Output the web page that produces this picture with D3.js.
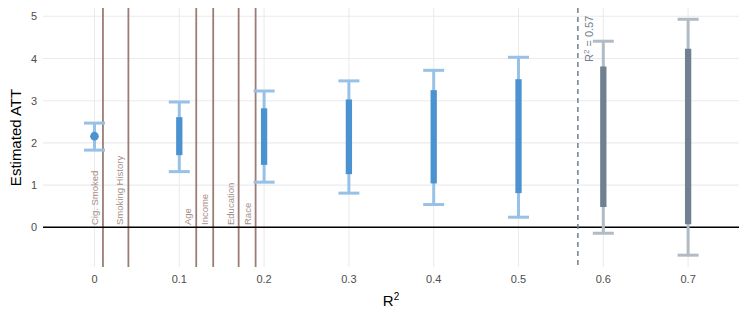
<!DOCTYPE html>
<html>
<head>
<meta charset="utf-8">
<script src="https://cdn.jsdelivr.net/npm/d3@7"></script>
<style>
  body { margin: 0; background: #fff; }
  svg { font-family: "Liberation Sans", Arial, sans-serif; }
</style>
</head>
<body>
<svg width="747" height="320"></svg>
<script>
// R^2 of each sensitivity scenario, with outer and inner intervals
const r2 = [0, 0.1, 0.2, 0.3, 0.4, 0.5, 0.6, 0.7]
const outerLo = [1.83, 1.32, 1.07, 0.81, 0.54, 0.24, -0.14, -0.66]
const outerHi = [2.47, 2.97, 3.23, 3.47, 3.72, 4.03, 4.41, 4.93]
const innerLo = [2.16, 1.71, 1.48, 1.26, 1.04, 0.81, 0.48, 0.07]
const innerHi = [2.16, 2.61, 2.82, 3.03, 3.25, 3.51, 3.81, 4.23]
const estimate = 2.16

// benchmark covariates
const covNames = ['Cig. Smoked', 'Smoking History', 'Age', 'Income', 'Education', 'Race']
const covR2 = [0.01, 0.04, 0.12, 0.14, 0.17, 0.19]

const threshold = 0.57
const xTicks = [0, 0.1, 0.2, 0.3, 0.4, 0.5, 0.6, 0.7]
const yTicks = [0, 1, 2, 3, 4, 5]

const BLUE = '#4a92d0', BLUE_LIGHT = '#98c1e7'
const GRAY = '#708090', GRAY_LIGHT = '#b1bbc5'
const BROWN = '#9c7d76'

const svg = d3.select('svg')
const pL = 43, pR = 739, pT = 8, pB = 267

const x = d3.scaleLinear().domain([-0.0607, 0.76]).range([pL, pR])
const y = d3.scaleLinear().domain([-0.94, 5.197]).range([pB, pT])

// grid
svg.append('g').selectAll('line')
    .data(yTicks)
  .enter().append('line')
    .attr('x1', pL).attr('x2', pR)
    .attr('y1', d => y(d)).attr('y2', d => y(d))
    .attr('stroke', '#ebebeb').attr('stroke-width', 1.1)
svg.append('g').selectAll('line')
    .data(xTicks)
  .enter().append('line')
    .attr('y1', pT).attr('y2', pB)
    .attr('x1', d => x(d)).attr('x2', d => x(d))
    .attr('stroke', '#ebebeb').attr('stroke-width', 1.1)

// axes text
svg.append('g').selectAll('text')
    .data(yTicks)
  .enter().append('text')
    .attr('x', 37).attr('y', d => y(d) + 4)
    .attr('text-anchor', 'end')
    .attr('font-size', 11).attr('fill', '#4d4d4d')
    .text(d => d)
svg.append('g').selectAll('text')
    .data(xTicks)
  .enter().append('text')
    .attr('x', d => x(d)).attr('y', 283)
    .attr('text-anchor', 'middle')
    .attr('font-size', 11).attr('fill', '#4d4d4d')
    .text(d => d)

svg.append('text')
    .attr('transform', `translate(21, ${(pT + pB) / 2}) rotate(-90)`)
    .attr('text-anchor', 'middle')
    .attr('font-size', 15).attr('fill', '#000')
    .text('Estimated ATT')
const xt = svg.append('text')
    .attr('x', (pL + pR) / 2).attr('y', 306)
    .attr('text-anchor', 'middle')
    .attr('font-size', 15).attr('fill', '#000')
xt.append('tspan').text('R')
xt.append('tspan').attr('dy', -6).attr('font-size', 10).text('2')

// benchmark lines
const cov = svg.append('g').selectAll('g')
    .data(covR2)
  .enter().append('g')
cov.append('line')
    .attr('x1', d => x(d)).attr('x2', d => x(d))
    .attr('y1', pT).attr('y2', pB)
    .attr('stroke', BROWN).attr('stroke-width', 1.8)
cov.append('text')
    .attr('transform', d => `translate(${x(d) - 5}, 225) rotate(-90)`)
    .attr('font-size', 9.5).attr('fill', '#a58f89')
    .text((d, i) => covNames[i])

// zero line
svg.append('line')
    .attr('x1', pL).attr('x2', pR)
    .attr('y1', y(0)).attr('y2', y(0))
    .attr('stroke', '#000').attr('stroke-width', 1.5)

// threshold
svg.append('line')
    .attr('x1', x(threshold)).attr('x2', x(threshold))
    .attr('y1', pT).attr('y2', pB)
    .attr('stroke', GRAY).attr('stroke-width', 1.5)
    .attr('stroke-dasharray', '5,4')
const tl = svg.append('text')
    .attr('transform', `translate(${x(threshold) + 15}, 62) rotate(-90)`)
    .attr('font-size', 11).attr('fill', GRAY)
tl.append('tspan').text('R')
tl.append('tspan').attr('dy', -4).attr('font-size', 8).text('2')
tl.append('tspan').attr('dy', 4).text(' = 0.57')

// intervals
const bars = svg.append('g').selectAll('g')
    .data(r2)
  .enter().append('g')
const light = d => d > threshold ? GRAY_LIGHT : BLUE_LIGHT
const dark = d => d > threshold ? GRAY : BLUE
bars.append('line')
    .attr('x1', d => x(d)).attr('x2', d => x(d))
    .attr('y1', (d, i) => y(outerLo[i])).attr('y2', (d, i) => y(outerHi[i]))
    .attr('stroke', light).attr('stroke-width', 3)
bars.selectAll('.cap')
    .data((d, i) => [[d, outerLo[i]], [d, outerHi[i]]])
  .enter().append('line')
    .attr('x1', d => x(d[0]) - 10.5).attr('x2', d => x(d[0]) + 10.5)
    .attr('y1', d => y(d[1])).attr('y2', d => y(d[1]))
    .attr('stroke', d => light(d[0])).attr('stroke-width', 3)
bars.filter(d => d > 0).append('line')
    .attr('x1', d => x(d)).attr('x2', d => x(d))
    .attr('y1', d => y(innerLo[r2.indexOf(d)])).attr('y2', d => y(innerHi[r2.indexOf(d)]))
    .attr('stroke', dark).attr('stroke-width', 6.3)

svg.append('circle')
    .attr('cx', x(0)).attr('cy', y(estimate))
    .attr('r', 4.3).attr('fill', BLUE)
</script>
</body>
</html>
